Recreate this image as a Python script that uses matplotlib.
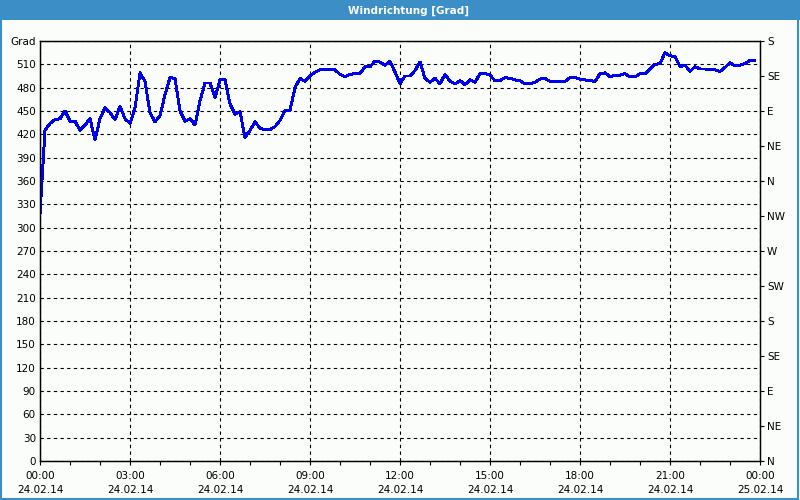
import numpy as np
import pandas as pd
import matplotlib
matplotlib.use("Agg")
import matplotlib.pyplot as plt
import matplotlib.dates as mdates
from matplotlib.patches import Rectangle

# wind direction in degrees, one reading every 10 minutes (24.02.14)
wind_dir = [318, 425, 434, 439, 440, 450, 437, 437, 425, 432,
            440, 413, 440, 454, 448, 439, 456, 440, 434, 454,
            499, 488, 448, 436, 444, 471, 493, 492, 450, 437,
            440, 432, 463, 486, 486, 467, 490, 490, 459, 446,
            449, 416, 425, 436, 428, 426, 426, 430, 438, 451,
            451, 480, 492, 488, 495, 500, 503, 503, 503, 503,
            497, 494, 497, 498, 498, 507, 507, 514, 513, 509,
            514, 500, 485, 495, 495, 502, 513, 492, 487, 492,
            485, 497, 488, 485, 489, 484, 490, 487, 498, 498,
            496, 489, 489, 493, 492, 490, 489, 485, 485, 487,
            491, 492, 488, 488, 488, 488, 493, 493, 491, 490,
            489, 488, 498, 499, 494, 496, 496, 498, 494, 494,
            498, 498, 504, 510, 511, 525, 521, 520, 507, 509,
            501, 507, 504, 504, 503, 503, 501, 506, 512, 508,
            509, 511, 515, 515]
times = pd.date_range("2014-02-24 00:00", periods=len(wind_dir), freq="10min")

y_ticks = list(range(0, 541, 30))
y_labels = [str(v) for v in y_ticks[:-1]] + ["Grad"]
compass_ticks = list(range(0, 541, 45))
compass_labels = ["N", "NE", "E", "SE", "S", "SW", "W", "NW",
                  "N", "NE", "E", "SE", "S"]
title = "Windrichtung [Grad]"

bar_blue = "#3c8fc6"
bg = "#fbfdfb"

fig = plt.figure(figsize=(8, 5), dpi=100, facecolor=bg)

# title bar and outer frame
fig.patches.append(Rectangle((0, 0.96), 1, 0.04, transform=fig.transFigure,
                             facecolor=bar_blue, edgecolor="none", zorder=0))
fig.patches.append(Rectangle((0.001, 0.002), 0.997, 0.996, transform=fig.transFigure,
                             facecolor="none", edgecolor=bar_blue, linewidth=1.5, zorder=5))
fig.text(0.511, 0.979, title, color="white", fontsize=7.5, fontweight="bold",
         ha="center", va="center")

ax = fig.add_axes([0.05, 0.078, 0.9, 0.84])
ax.set_facecolor(bg)
ax.plot(times, wind_dir, color="#0000f0", linewidth=1.4, antialiased=False, zorder=3)

ax.set_xlim(pd.Timestamp("2014-02-24 00:00"), pd.Timestamp("2014-02-25 00:00"))
ax.set_ylim(0, 540)
ax.set_yticks(y_ticks)
ax.set_yticklabels(y_labels)

ax.xaxis.set_major_locator(mdates.HourLocator(byhour=range(0, 24, 3)))
ax.xaxis.set_minor_locator(mdates.HourLocator())
ax.xaxis.set_major_formatter(mdates.DateFormatter("%H:%M\n%d.%m.%y"))

ax.grid(True, which="major", color="black", linestyle=(0, (3, 3)), linewidth=0.8)
ax.tick_params(axis="y", length=0, pad=3, labelsize=7.5)
ax.tick_params(axis="x", which="both", direction="out", length=3, width=0.8,
               pad=4, labelsize=7.5)
for lab in ax.get_xticklabels():
    lab.set_linespacing(1.5)

for s in ax.spines.values():
    s.set_linewidth(0.9)

ax2 = ax.twinx()
ax2.set_ylim(0, 540)
ax2.set_yticks(compass_ticks)
ax2.set_yticklabels(compass_labels)
ax2.tick_params(axis="y", direction="out", length=3, width=0.8, pad=2, labelsize=7.5)
for s in ax2.spines.values():
    s.set_linewidth(0.9)

fig.savefig("out.png", dpi=100, facecolor=bg)
